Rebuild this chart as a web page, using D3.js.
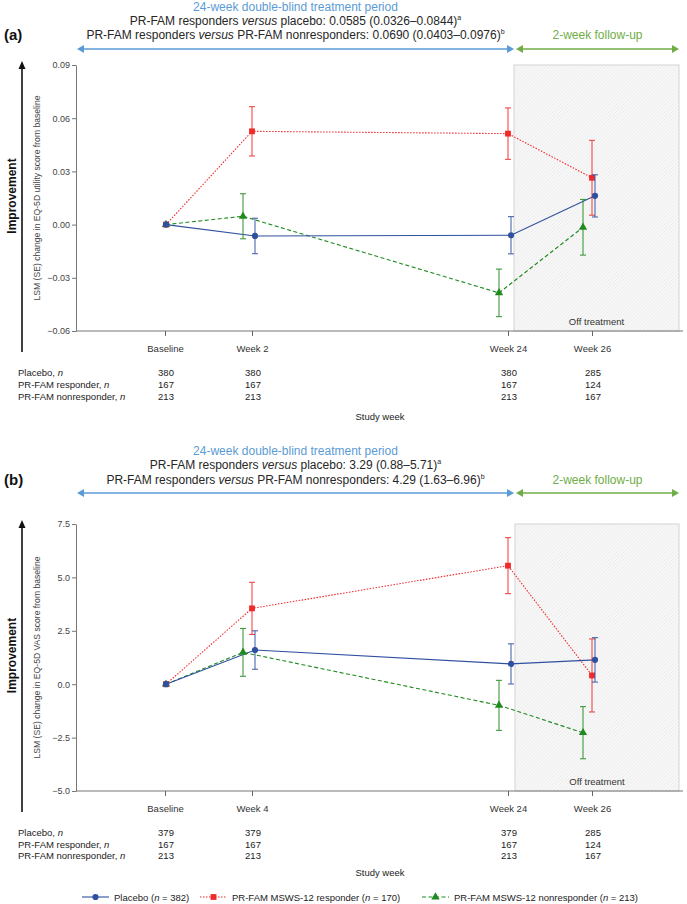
<!DOCTYPE html>
<html><head><meta charset="utf-8">
<script src="https://cdn.jsdelivr.net/npm/d3@7"></script>
<style>
body{margin:0;background:#fff;}
svg{display:block;font-family:"Liberation Sans",Arial,Helvetica,sans-serif;}
</style>
</head><body>
<svg id="chart" width="687" height="904"></svg>
<script>
// ---------------- DATA ----------------
const weekLabelsA = ["Baseline", "Week 2", "Week 24", "Week 26"];
const weekNumsA = [0, 2, 24, 26];
const weekLabelsB = ["Baseline", "Week 4", "Week 24", "Week 26"];
const weekNumsB = [0, 4, 24, 26];

// Panel (a): EQ-5D utility score
const placeboA = [0, -0.0064, -0.0060, 0.0162];
const placeboSeA = [0, 0.0100, 0.0105, 0.0119];
const responderA = [0, 0.0526, 0.0513, 0.0264];
const responderSeA = [0, 0.0139, 0.0145, 0.0211];
const nonresponderA = [0, 0.0047, -0.0385, -0.0015];
const nonresponderSeA = [0, 0.0127, 0.0134, 0.0157];
const yTicksA = [-0.06, -0.03, 0, 0.03, 0.06, 0.09];

// Panel (b): EQ-5D VAS score
const placeboB = [0, 1.60, 0.95, 1.14];
const placeboSeB = [0, 0.90, 0.94, 1.04];
const responderB = [0, 3.55, 5.55, 0.41];
const responderSeB = [0, 1.22, 1.31, 1.71];
const nonresponderB = [0, 1.49, -0.99, -2.27];
const nonresponderSeB = [0, 1.12, 1.17, 1.22];
const yTicksB = [-5, -2.5, 0, 2.5, 5, 7.5];

// Numbers at risk
const nPlaceboA = [380, 380, 380, 285];
const nResponderA = [167, 167, 167, 124];
const nNonresponderA = [213, 213, 213, 167];
const nPlaceboB = [379, 379, 379, 285];
const nResponderB = [167, 167, 167, 124];
const nNonresponderB = [213, 213, 213, 167];

const rowLabels = ["Placebo, ", "PR-FAM responder, ", "PR-FAM nonresponder, "];
const seriesNames = ["Placebo", "PR-FAM MSWS-12 responder", "PR-FAM MSWS-12 nonresponder"];
const seriesN = [382, 170, 213];

// ---------------- STYLE ----------------
const COL = {blue: "#2f4f9f", red: "#ee2a2a", green: "#1f8a1f"};
const headBlue = "#5b9bd5", headGreen = "#70ad47";
const series = [
  {key: "non", color: COL.green, dash: "4,2.5", sym: d3.symbolTriangle, size: 30, off: -9},
  {key: "resp", color: COL.red, dash: "1.5,1.5", sym: d3.symbolSquare, size: 34, off: 0},
  {key: "plac", color: COL.blue, dash: null, sym: d3.symbolCircle, size: 30, off: 3}
];

const svg = d3.select("#chart");
const defs = svg.append("defs");
const pat = defs.append("pattern").attr("id", "hatch").attr("patternUnits", "userSpaceOnUse")
  .attr("width", 3.5).attr("height", 3.5);
pat.append("rect").attr("width", 3.5).attr("height", 3.5).attr("fill", "#f8f8f8");
pat.append("path").attr("d", "M-1,1 l2,-2 M0,3.5 l3.5,-3.5 M2.5,4.5 l2,-2")
  .attr("stroke", "#e0e0e0").attr("stroke-width", 0.6);

function arrowH(g, x1, x2, y, color) {
  g.append("line").attr("x1", x1 + 4).attr("x2", x2 - 4).attr("y1", y).attr("y2", y)
    .attr("stroke", color).attr("stroke-width", 1.6);
  g.append("path").attr("d", `M${x1},${y} l7,-4 l0,8 z`).attr("fill", color);
  g.append("path").attr("d", `M${x2},${y} l-7,-4 l0,8 z`).attr("fill", color);
}

function drawPanel(cfg) {
  const g = svg.append("g");
  const L = cfg.layout;
  const x = d3.scaleLinear().domain(cfg.weeks).range(L.xPos);
  const y = d3.scaleLinear().domain([cfg.yTicks[0], cfg.yTicks[cfg.yTicks.length - 1]]).range([L.yBottom, L.yTop]);

  // Header
  g.append("text").attr("x", 4).attr("y", L.hy3 + 5).attr("font-size", 15).attr("font-weight", "bold")
    .attr("fill", "#111").text(cfg.tag);
  const cx = (L.armL + L.armM) / 2;
  g.append("text").attr("x", cx).attr("y", L.hy1 + 4).attr("text-anchor", "middle").attr("font-size", 12)
    .attr("fill", headBlue).text("24-week double-blind treatment period");
  cfg.compare.forEach((c, i) => {
    const t = g.append("text").attr("x", cx).attr("y", (i === 0 ? L.hy2 : L.hy3) + 4)
      .attr("text-anchor", "middle").attr("font-size", 12).attr("fill", "#262626");
    t.append("tspan").text(c[0]);
    t.append("tspan").attr("font-style", "italic").text("versus");
    t.append("tspan").text(c[1]);
    t.append("tspan").attr("font-size", 7).attr("dy", -5).text(c[2]);
  });
  g.append("text").attr("x", (L.armM + 2 + L.armR) / 2).attr("y", L.hy3 + 4).attr("text-anchor", "middle")
    .attr("font-size", 12).attr("fill", headGreen).text("2-week follow-up");
  arrowH(g, L.armL, L.armM, L.arrowY, headBlue);
  arrowH(g, L.armM + 2, L.armR, L.arrowY, headGreen);

  // Hatched off-treatment area
  g.append("rect").attr("x", L.hatchX).attr("y", L.yTop).attr("width", L.hatchR - L.hatchX)
    .attr("height", L.yBottom - L.yTop).attr("fill", "url(#hatch)").attr("stroke", "#d4d4d4").attr("stroke-width", 1);
  g.append("text").attr("x", (L.hatchX + L.hatchR) / 2).attr("y", L.yBottom - 6).attr("text-anchor", "middle")
    .attr("font-size", 9.5).attr("fill", "#333").text("Off treatment");

  // Y axis
  const ya = g.append("g").attr("transform", `translate(${L.axisX},0)`)
    .call(d3.axisLeft(y).tickValues(cfg.yTicks).tickFormat(d3.format(cfg.fmt)).tickSize(4).tickSizeOuter(0).tickPadding(2));
  ya.select(".domain").attr("stroke", "#777");
  ya.selectAll(".tick line").attr("stroke", "#777");
  ya.selectAll("text").attr("font-size", 9).attr("fill", "#444").attr("font-family", "inherit");

  // X axis
  g.append("line").attr("x1", L.axisX).attr("x2", L.axisR).attr("y1", L.yBottom).attr("y2", L.yBottom)
    .attr("stroke", "#777").attr("stroke-width", 1.2);
  const xa = g.append("g").attr("transform", `translate(0,${L.yBottom})`)
    .call(d3.axisBottom(x).tickValues(cfg.weeks).tickFormat((d, i) => cfg.labels[i]).tickSize(5).tickPadding(9));
  xa.select(".domain").remove();
  xa.selectAll(".tick line").attr("stroke", "#666");
  xa.selectAll("text").attr("font-size", 9.5).attr("fill", "#333").attr("font-family", "inherit");

  // Y title & improvement arrow
  const ymid = (L.yTop + L.yBottom) / 2;
  g.append("text").attr("transform", `translate(${40},${ymid}) rotate(-90)`).attr("text-anchor", "middle")
    .attr("font-size", 8.6).attr("fill", "#444").text(cfg.yTitle);
  g.append("text").attr("transform", `translate(${16},${ymid - 2}) rotate(-90)`).attr("text-anchor", "middle")
    .attr("font-size", 12).attr("font-weight", "bold").attr("fill", "#111").text("Improvement");
  g.append("line").attr("x1", 22).attr("x2", 22).attr("y1", L.yTop + 2).attr("y2", L.impBottom)
    .attr("stroke", "#111").attr("stroke-width", 1.6);
  g.append("path").attr("d", `M22,${L.yTop - 4} l-3.5,8 l7,0 z`).attr("fill", "#111");

  // Series
  const data = {plac: [cfg.plac, cfg.placSe], resp: [cfg.resp, cfg.respSe], non: [cfg.non, cfg.nonSe]};
  const px = (s, i) => x(cfg.weeks[i]) + (i === 0 ? 1 : s.off);
  series.forEach(s => {
    const [m] = data[s.key];
    const line = d3.line().x((d, i) => px(s, i)).y(d => y(d));
    g.append("path").attr("d", line(m)).attr("fill", "none").attr("stroke", s.color).attr("stroke-width", 1.1)
      .attr("stroke-dasharray", s.dash);
  });
  series.forEach(s => {
    const [m, se] = data[s.key];
    m.forEach((v, i) => {
      if (se[i] > 0) {
        const xx = px(s, i);
        const eg = g.append("g").attr("stroke", s.color).attr("stroke-width", 1.1).attr("opacity", 0.85);
        eg.append("line").attr("x1", xx).attr("x2", xx).attr("y1", y(v - se[i])).attr("y2", y(v + se[i]));
        eg.append("line").attr("x1", xx - 3).attr("x2", xx + 3).attr("y1", y(v - se[i])).attr("y2", y(v - se[i]));
        eg.append("line").attr("x1", xx - 3).attr("x2", xx + 3).attr("y1", y(v + se[i])).attr("y2", y(v + se[i]));
      }
    });
    g.selectAll(null).data(m).enter().append("path")
      .attr("d", d3.symbol().type(s.sym).size(s.size))
      .attr("transform", (d, i) => `translate(${px(s, i)},${y(d)})`)
      .attr("fill", s.color);
  });

  // n table
  const rows = [cfg.nPlac, cfg.nResp, cfg.nNon];
  rows.forEach((r, ri) => {
    const ty = L.rowY[ri] + 3.5;
    const t = g.append("text").attr("x", 18).attr("y", ty).attr("font-size", 9.5).attr("fill", "#222");
    t.append("tspan").text(rowLabels[ri]);
    t.append("tspan").attr("font-style", "italic").text("n");
    r.forEach((v, i) => {
      g.append("text").attr("x", x(cfg.weeks[i]) + 1).attr("y", ty).attr("text-anchor", "middle")
        .attr("font-size", 9.5).attr("fill", "#222").text(v);
    });
  });
  g.append("text").attr("x", 380).attr("y", L.studyY + 3.5).attr("text-anchor", "middle")
    .attr("font-size", 9.5).attr("fill", "#222").text("Study week");
}

const xPos = [165, 252, 508, 592];
drawPanel({
  tag: "(a)", weeks: weekNumsA, labels: weekLabelsA, yTicks: yTicksA, fmt: ".2f",
  yTitle: "LSM (SE) change in EQ-5D utility score from baseline",
  compare: [["PR-FAM responders ", " placebo: 0.0585 (0.0326\u20130.0844)", "a"],
            ["PR-FAM responders ", " PR-FAM nonresponders: 0.0690 (0.0403\u20130.0976)", "b"]],
  plac: placeboA, placSe: placeboSeA, resp: responderA, respSe: responderSeA, non: nonresponderA, nonSe: nonresponderSeA,
  nPlac: nPlaceboA, nResp: nResponderA, nNon: nNonresponderA,
  layout: {xPos, yTop: 65, yBottom: 331, axisX: 76, axisR: 683, hatchX: 514, hatchR: 679,
    hy1: 7, hy2: 21, hy3: 35, arrowY: 49, armL: 77, armM: 514, armR: 679,
    impBottom: 352, rowY: [372, 384, 396], studyY: 416}
});
drawPanel({
  tag: "(b)", weeks: weekNumsB, labels: weekLabelsB, yTicks: yTicksB, fmt: ".1f",
  yTitle: "LSM (SE) change in EQ-5D VAS score from baseline",
  compare: [["PR-FAM responders ", " placebo: 3.29 (0.88\u20135.71)", "a"],
            ["PR-FAM responders ", " PR-FAM nonresponders: 4.29 (1.63\u20136.96)", "b"]],
  plac: placeboB, placSe: placeboSeB, resp: responderB, respSe: responderSeB, non: nonresponderB, nonSe: nonresponderSeB,
  nPlac: nPlaceboB, nResp: nResponderB, nNon: nNonresponderB,
  layout: {xPos, yTop: 524, yBottom: 791, axisX: 76, axisR: 683, hatchX: 515, hatchR: 679,
    hy1: 451, hy2: 465, hy3: 480, arrowY: 493, armL: 77, armM: 514, armR: 679,
    impBottom: 812, rowY: [832.5, 844, 855.5], studyY: 872}
});

// Legend
const legX = [82, 200, 422];
const legOrder = [2, 1, 0]; // placebo, responder, nonresponder
const lg = svg.append("g").attr("transform", "translate(0,897)");
legOrder.forEach((si, k) => {
  const s = series[si];
  const x0 = legX[k];
  lg.append("line").attr("x1", x0).attr("x2", x0 + 27).attr("y1", 0).attr("y2", 0)
    .attr("stroke", s.color).attr("stroke-width", 1.1).attr("stroke-dasharray", s.dash);
  lg.append("path").attr("d", d3.symbol().type(s.sym).size(s.size)).attr("transform", `translate(${x0 + 13.5},0)`)
    .attr("fill", s.color);
  const t = lg.append("text").attr("x", x0 + 32).attr("y", 3.5).attr("font-size", 9.5).attr("fill", "#222");
  t.append("tspan").text(seriesNames[k] + " (");
  t.append("tspan").attr("font-style", "italic").text("n");
  t.append("tspan").text(" = " + seriesN[k] + ")");
});
</script>
</body></html>
